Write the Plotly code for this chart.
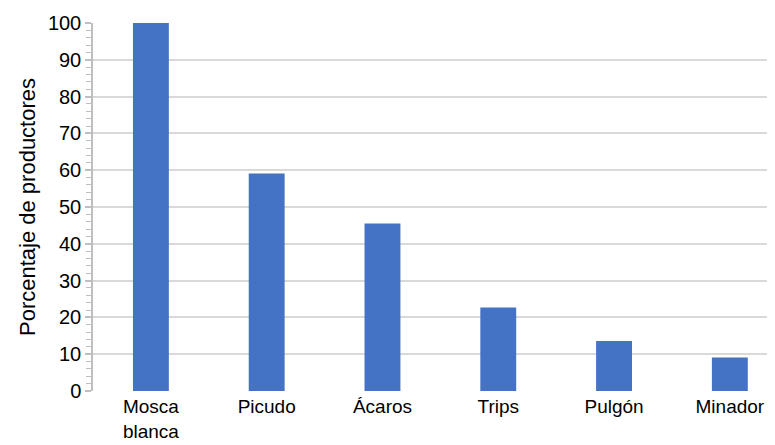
import plotly.graph_objects as go

categories = ["Mosca<br>blanca", "Picudo", "Ácaros", "Trips", "Pulgón", "Minador"]
values = [100, 59.1, 45.5, 22.7, 13.6, 9.1]
y_ticks = list(range(0, 101, 10))

fig = go.Figure(go.Bar(
    x=categories, y=values,
    marker=dict(color="#4472C4", line=dict(width=0)),
    width=0.31,
))

font = dict(family="Liberation Sans, Arial, sans-serif", size=20, color="#000000")
xfont = dict(family="Liberation Sans, Arial, sans-serif", size=19, color="#000000")
title_font = dict(family="Liberation Sans, Arial, sans-serif", size=22, color="#000000")

fig.update_layout(
    width=767, height=437,
    margin=dict(l=85, r=0, t=15, b=54, autoexpand=False),
    paper_bgcolor="white", plot_bgcolor="white",
    font=font,
    showlegend=False,
    xaxis=dict(
        range=[-0.5, 5.39],
        showgrid=False,
        showline=False,
        ticks="",
        tickfont=xfont,
        automargin=False,
        ticklabelstandoff=2,
    ),
    yaxis=dict(
        range=[0, 100],
        tickvals=y_ticks,
        showgrid=True, gridcolor="#d9d9d9", gridwidth=1.5,
        showline=True, linecolor="#bfbfbf", linewidth=1.5,
        ticks="outside", ticklen=6, tickcolor="#bfbfbf", tickwidth=1.5,
        minor=dict(dtick=2, ticks="outside", ticklen=5, tickcolor="#bfbfbf", tickwidth=1, showgrid=False),
        zeroline=False,
        tickfont=font,
        automargin=False,
        title=dict(text="Porcentaje de productores", font=title_font, standoff=6),
    ),
)

fig.write_html("out.html")
